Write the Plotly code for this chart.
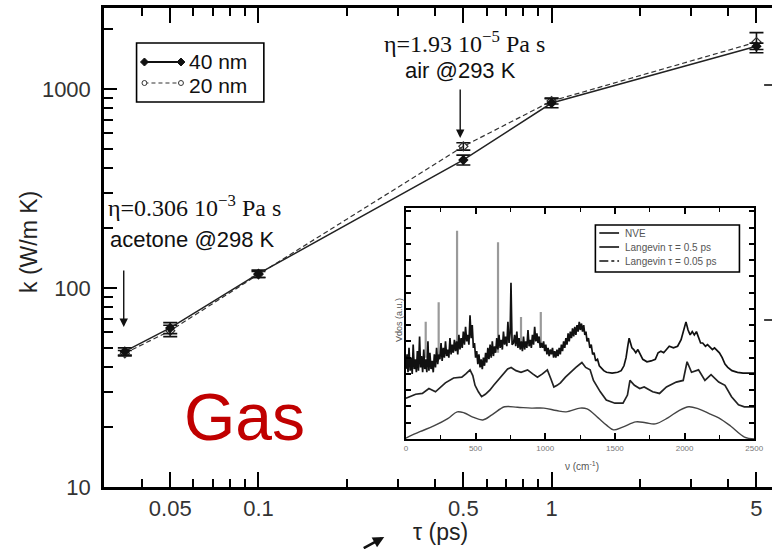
import plotly.graph_objects as go

# ---------------- main panel: thermal conductivity vs relaxation time ----------------
tau = [0.035, 0.05, 0.1, 0.5, 1, 5]
k_40nm = [48, 63, 118, 440, 850, 1640]
err_40nm = [2, 4, 5, 25, 45, 60]
k_20nm = [47, 61, 117, 515, 870, 1720]
err_20nm = [1.5, 4, 4, 22, 30, 200]

x_tickvals = [0.05, 0.1, 0.5, 1, 5]
x_ticktext = ["0.05", "0.1", "0.5", "1", "5"]
x_minor = [0.04, 0.06, 0.07, 0.08, 0.09, 0.2, 0.3, 0.4, 0.6, 0.7, 0.8, 0.9, 2, 3, 4]
y_tickvals = [10, 100, 1000]
y_ticktext = ["10", "100", "1000"]
y_minor = [20, 30, 40, 50, 60, 70, 80, 90, 200, 300, 400, 500, 600, 700, 800, 900, 2000]

# ---------------- inset: vibrational density of states ----------------
nve_nu = [0, 8, 15, 22, 30, 38, 45, 52, 60, 68, 75, 82, 90, 98, 105, 112, 120, 128, 135, 142,
          150, 158, 165, 172, 180, 188, 196, 204, 212, 220, 228, 236, 244, 252, 260, 268, 276,
          284, 292, 300, 308, 316, 324, 332, 340, 348, 356, 364, 372, 380, 388, 396, 404, 412,
          420, 428, 436, 444, 452, 460, 468, 476, 484, 492, 500, 508, 516, 524, 532, 540, 548,
          556, 564, 572, 580, 588, 596, 604, 612, 620, 628, 636, 644, 652, 660, 668, 676, 684,
          692, 700, 708, 716, 724, 732, 740, 748, 754, 762, 772, 780, 788, 796, 804, 812, 820,
          828, 836, 844, 852, 860, 868, 876, 884, 892, 900, 908, 916, 924, 932, 940, 948, 956,
          964, 972, 980, 988, 996, 1004, 1012, 1020, 1028, 1036, 1044, 1052, 1060, 1068, 1076,
          1084, 1092, 1100, 1108, 1116, 1124, 1132, 1140, 1148, 1156, 1164, 1172, 1180, 1188,
          1196, 1204, 1212, 1220, 1228, 1236, 1244, 1252, 1260, 1268, 1276, 1284, 1292, 1300,
          1310, 1320, 1330, 1340, 1350, 1362, 1375, 1388, 1400, 1420, 1440, 1480, 1520, 1545,
          1565, 1580, 1592, 1602, 1612, 1622, 1635, 1650, 1665, 1680, 1700, 1730, 1760, 1790,
          1810, 1830, 1850, 1870, 1890, 1920, 1950, 1975, 1990, 2000, 2010, 2025, 2040, 2055,
          2070, 2085, 2100, 2115, 2130, 2150, 2165, 2185, 2200, 2215, 2235, 2250, 2270, 2290,
          2310, 2340, 2380, 2420, 2500]
nve_v = [4.3, 5.2, 4.1, 5.6, 4.2, 5.0, 4.0, 5.8, 4.3, 4.9, 4.1, 5.4, 4.2, 6.3, 4.4, 5.1, 4.1, 5.5, 4.3, 4.9,
         4.1, 6.0, 4.2, 5.3, 4.3, 4.8, 4.1, 5.2, 4.4, 5.6, 4.6, 5.2, 4.9, 5.9, 4.8, 5.6, 5.0,
         6.0, 5.1, 5.5, 5.0, 6.2, 5.2, 5.8, 5.3, 6.1, 5.4, 6.0, 5.2, 6.4, 5.5, 6.2, 5.6, 6.6,
         5.8, 6.9, 6.0, 6.4, 5.8, 7.6, 6.2, 7.0, 5.6, 5.9, 5.0, 5.4, 4.6, 5.2, 4.4, 4.9, 4.3,
         5.0, 4.5, 5.3, 4.7, 5.6, 4.9, 5.8, 5.0, 6.0, 5.1, 5.7, 5.3, 6.2, 5.5, 6.4, 5.6, 6.1,
         5.5, 6.6, 5.8, 6.3, 5.7, 7.2, 5.9, 6.5, 9.6, 5.8, 5.9, 6.4, 5.7, 6.6, 5.6, 6.2, 5.5,
         6.0, 5.4, 6.3, 5.5, 6.0, 5.6, 6.7, 5.7, 6.1, 5.6, 6.4, 5.8, 6.9, 6.0, 6.5, 5.9, 6.3,
         5.6, 5.9, 5.6, 6.0, 5.4, 5.8, 5.2, 5.6, 5.1, 5.5, 5.2, 5.6, 5.0, 5.4, 5.0,
         5.5, 5.1, 5.6, 5.2, 5.8, 5.4, 6.0, 5.6, 6.2, 5.8, 6.5, 6.0, 6.6, 6.2,
         6.8, 6.3, 6.9, 6.4, 7.0, 6.6, 7.2, 6.7, 7.1, 6.6, 7.0, 6.4, 6.6, 6.0,
         6.2, 5.6, 5.8, 5.2, 5.3, 4.8, 4.9, 4.5, 4.4, 4.2, 4.1, 4.05, 4.1, 4.2,
         4.5, 5.0, 5.7, 6.2, 5.9, 5.6, 5.5, 5.3, 5.5, 5.2, 4.9, 4.75, 4.8, 4.9,
         5.3, 5.4, 5.3, 5.5, 5.7, 5.6, 5.7, 6.1, 6.6, 7.0, 7.2, 6.7, 6.4, 6.6,
         6.4, 6.6, 6.2, 5.9, 5.9, 5.7, 5.8, 5.6, 5.5, 5.6, 5.4, 5.3, 5.0, 4.6,
         4.4, 4.2, 4.1, 4.05, 4.05]

# sharp grey peaks of the NVE spectrum
peak_nu = [142, 235, 367, 661, 826, 968]
peak_base = [5.0, 5.2, 5.6, 5.3, 5.8, 5.8]
peak_top = [7.2, 8.4, 12.8, 12.1, 7.5, 7.8]

lg05_nu = [0, 24, 70, 118, 165, 212, 250, 283, 342, 401, 430, 460, 480, 496, 520, 543, 570,
           602, 630, 661, 708, 730, 755, 790, 826, 850, 873, 910, 944, 980, 1015, 1040, 1062,
           1085, 1109, 1145, 1180, 1220, 1263, 1290, 1322, 1346, 1395, 1438, 1500, 1558, 1590,
           1608, 1640, 1678, 1710, 1771, 1820, 1870, 1940, 1990, 2018, 2050, 2100, 2146, 2190,
           2245, 2290, 2337, 2387, 2429, 2500]
lg05_v = [2.5, 2.6, 2.75, 2.8, 3.1, 2.9, 3.2, 3.45, 3.75, 3.8, 4.0, 4.25, 3.9, 3.3, 2.9, 2.6, 2.75,
          3.0, 3.3, 3.6, 4.1, 4.3, 4.4, 4.2, 4.1, 4.2, 4.25, 4.0, 3.8, 4.0, 4.25, 3.7, 3.2,
          3.3, 3.45, 3.8, 4.1, 4.4, 4.7, 4.4, 4.25, 3.6, 2.9, 2.4, 2.2, 2.2, 2.7,
          3.6, 3.3, 3.1, 3.2, 2.9, 2.8, 3.2, 3.5, 3.6, 4.75, 4.1, 4.25, 3.6, 3.95,
          3.5, 3.3, 2.6, 2.1, 1.98, 1.98]

lg005_nu = [0, 100, 200, 300, 368, 420, 480, 552, 620, 708, 800, 900, 990, 1080, 1150, 1250,
            1300, 1380, 1440, 1490, 1560, 1650, 1720, 1790, 1880, 1960, 2030, 2100, 2180, 2245,
            2330, 2430, 2500]
lg005_v = [0.06, 0.45, 0.8, 1.25, 1.67, 1.6, 1.35, 1.17, 1.5, 1.98, 1.95, 1.9, 1.9, 1.75, 1.67, 1.9,
           1.85, 1.3, 0.85, 0.56, 0.75, 1.05, 1.0, 0.93, 1.3, 1.75, 1.98, 1.85, 1.55, 1.3,
           0.8, 0.12, 0.0]

inset_xticks = [0, 500, 1000, 1500, 2000, 2500]
inset_xminor = [250, 750, 1250, 1750, 2250]
inset_yticks = [1, 2, 3, 4, 5, 6, 7, 8, 9, 10, 11, 12, 13, 14]

# ---------------- page geometry (pixels) ----------------
W, H = 781, 549
ML, MR, MT, MB = 104, 0, 8, 62
PW, PH = W - ML - MR, H - MT - MB


def px(x):
    return (x - ML) / PW


def py(y):
    return (H - MB - y) / PH


SANS = "Liberation Sans, Arial, sans-serif"
SERIF = "Liberation Serif, Times New Roman, serif"

fig = go.Figure()

fig.add_trace(go.Scatter(
    x=tau, y=k_20nm, mode="lines+markers", name="20 nm",
    line=dict(color="#333", width=1.2, dash="5px,3px"),
    marker=dict(symbol="diamond-open", size=7, color="#333", line=dict(width=1.2)),
    error_y=dict(type="data", array=err_20nm, color="#111", thickness=1.6, width=7),
))
fig.add_trace(go.Scatter(
    x=tau, y=k_40nm, mode="lines+markers", name="40 nm",
    line=dict(color="#222", width=1.5),
    marker=dict(symbol="diamond", size=8, color="#111"),
    error_y=dict(type="data", array=err_40nm, color="#111", thickness=1.6, width=7),
))

# inset spectra
peak_x, peak_y = [], []
for n, b, t in zip(peak_nu, peak_base, peak_top):
    peak_x += [n, n, None]
    peak_y += [b, t, None]

fig.add_trace(go.Scatter(x=lg005_nu, y=lg005_v, mode="lines", xaxis="x2", yaxis="y2",
                         line=dict(color="#444", width=1.4), line_shape="spline"))
fig.add_trace(go.Scatter(x=lg05_nu, y=lg05_v, mode="lines", xaxis="x2", yaxis="y2",
                         line=dict(color="#222", width=1.7)))
fig.add_trace(go.Scatter(x=peak_x, y=peak_y, mode="lines", xaxis="x2", yaxis="y2",
                         line=dict(color="#9a9a9a", width=2.2)))
fig.add_trace(go.Scatter(x=nve_nu, y=nve_v, mode="lines", xaxis="x2", yaxis="y2",
                         line=dict(color="#111", width=1.7)))

shapes = []
annotations = []

# main legend
shapes.append(dict(type="rect", xref="paper", yref="paper", x0=px(137), x1=px(266),
                   y0=py(102), y1=py(43), line=dict(color="black", width=1.6)))
shapes.append(dict(type="line", xref="paper", yref="paper", x0=px(145), x1=px(182),
                   y0=py(62), y1=py(62), line=dict(color="#111", width=1.8)))
shapes.append(dict(type="line", xref="paper", yref="paper", x0=px(145), x1=px(182),
                   y0=py(83), y1=py(83), line=dict(color="#333", width=1.2, dash="4px,3px")))
for cx in (145, 182):
    shapes.append(dict(type="path", xref="paper", yref="paper",
                       path="M {a},{b} L {c},{d} L {a},{e} L {f},{d} Z".format(
                           a=px(cx), b=py(58), c=px(cx + 4), d=py(62), e=py(66), f=px(cx - 4)),
                       fillcolor="#111", line=dict(color="#111", width=1)))
    shapes.append(dict(type="circle", xref="paper", yref="paper",
                       x0=px(cx - 2.5), x1=px(cx + 2.5), y0=py(85.5), y1=py(80.5),
                       fillcolor="white", line=dict(color="#333", width=1)))
annotations.append(dict(text="40 nm", x=px(188), y=py(61), xref="paper", yref="paper",
                        xanchor="left", yanchor="middle", showarrow=False,
                        font=dict(family=SANS, size=21, color="#111")))
annotations.append(dict(text="20 nm", x=px(188), y=py(85), xref="paper", yref="paper",
                        xanchor="left", yanchor="middle", showarrow=False,
                        font=dict(family=SANS, size=21, color="#111")))

# viscosity notes and arrows
annotations.append(dict(text="\u03b7=0.306 10<sup>\u22123</sup> Pa s", x=px(106), y=py(206),
                        xref="paper", yref="paper", xanchor="left", yanchor="middle",
                        showarrow=False, font=dict(family=SERIF, size=24, color="#111")))
annotations.append(dict(text="acetone @298 K", x=px(108), y=py(239), xref="paper", yref="paper",
                        xanchor="left", yanchor="middle", showarrow=False,
                        font=dict(family=SANS, size=22, color="#111")))
annotations.append(dict(text="", x=px(124), y=py(327), xref="paper", yref="paper",
                        ax=0, ay=-58, showarrow=True, arrowhead=2, arrowsize=1.2,
                        arrowwidth=1.4, arrowcolor="#111"))
annotations.append(dict(text="\u03b7=1.93 10<sup>\u22125</sup> Pa s", x=px(469), y=py(42),
                        xref="paper", yref="paper", xanchor="center", yanchor="middle",
                        showarrow=False, font=dict(family=SERIF, size=24, color="#111")))
annotations.append(dict(text="air @293 K", x=px(465), y=py(71), xref="paper", yref="paper",
                        xanchor="center", yanchor="middle", showarrow=False,
                        font=dict(family=SANS, size=22, color="#111")))
annotations.append(dict(text="", x=px(465), y=py(138), xref="paper", yref="paper",
                        ax=0, ay=-50, showarrow=True, arrowhead=2, arrowsize=1.2,
                        arrowwidth=1.4, arrowcolor="#111"))

annotations.append(dict(text="Gas", x=px(246), y=py(417), xref="paper", yref="paper",
                        xanchor="center", yanchor="middle", showarrow=False,
                        font=dict(family=SANS, size=66, color="#C00000")))

# axis titles
annotations.append(dict(text="k (W/m K)", x=px(28), y=py(242), xref="paper", yref="paper",
                        xanchor="center", yanchor="middle", textangle=-90, showarrow=False,
                        font=dict(family=SANS, size=23, color="#222")))
annotations.append(dict(text="\u03c4 (ps)", x=px(445), y=py(532), xref="paper", yref="paper",
                        xanchor="center", yanchor="middle", showarrow=False,
                        font=dict(family=SANS, size=23, color="#222")))
annotations.append(dict(text="", x=px(388), y=py(537), xref="paper", yref="paper",
                        ax=-22, ay=14, showarrow=True, arrowhead=2, arrowsize=0.9,
                        arrowwidth=2.5, arrowcolor="#111"))

# inset legend
shapes.append(dict(type="rect", xref="paper", yref="paper", x0=px(602), x1=px(748),
                   y0=py(272), y1=py(225), line=dict(color="black", width=1.6),
                   fillcolor="white"))
leg_rows = [("NVE", 233, None), ("Langevin \u03c4 = 0.5 ps", 247, None),
            ("Langevin \u03c4 = 0.05 ps", 261, "dashdot")]
for label, yy, dash in leg_rows:
    shapes.append(dict(type="line", xref="paper", yref="paper", x0=px(606), x1=px(626),
                       y0=py(yy), y1=py(yy),
                       line=dict(color="#111", width=1.6, dash=dash or "solid")))
    annotations.append(dict(text=label, x=px(630), y=py(yy), xref="paper", yref="paper",
                            xanchor="left", yanchor="middle", showarrow=False,
                            font=dict(family=SANS, size=10, color="#555")))

annotations.append(dict(text="\u03bd (cm<sup>-1</sup>)", x=px(588), y=py(466),
                        xref="paper", yref="paper", xanchor="center", yanchor="middle",
                        showarrow=False, font=dict(family=SANS, size=10, color="#555")))
annotations.append(dict(text="Vdos (a.u.)", x=px(403), y=py(320), xref="paper", yref="paper",
                        xanchor="center", yanchor="middle", textangle=-90, showarrow=False,
                        font=dict(family=SANS, size=9, color="#555")))

# edge marks of the neighbouring panel
for yy in (85, 320):
    shapes.append(dict(type="line", xref="paper", yref="paper", x0=px(773), x1=px(781),
                       y0=py(yy), y1=py(yy), line=dict(color="#111", width=1.6)))

fig.update_layout(
    width=W, height=H,
    margin=dict(l=ML, r=MR, t=MT, b=MB, pad=0),
    paper_bgcolor="white", plot_bgcolor="white",
    showlegend=False,
    shapes=shapes, annotations=annotations,
    xaxis=dict(
        type="log", range=[-1.527, 0.752], showgrid=False, zeroline=False,
        showline=True, linecolor="black", linewidth=2.5, mirror="ticks",
        ticks="inside", ticklen=15, tickwidth=2, tickcolor="black",
        tickmode="array", tickvals=x_tickvals, ticktext=x_ticktext,
        minor=dict(tickmode="array", tickvals=x_minor, ticks="inside", ticklen=8,
                   tickwidth=1.8, tickcolor="black", showgrid=False),
        tickfont=dict(family=SANS, size=22, color="#333"),
    ),
    yaxis=dict(
        type="log", range=[1, 3.407], showgrid=False, zeroline=False,
        showline=True, linecolor="black", linewidth=2.5,
        ticks="inside", ticklen=13, tickwidth=2, tickcolor="black",
        tickmode="array", tickvals=y_tickvals, ticktext=y_ticktext,
        minor=dict(tickmode="array", tickvals=y_minor, ticks="inside", ticklen=9,
                   tickwidth=1.8, tickcolor="black", showgrid=False),
        tickfont=dict(family=SANS, size=22, color="#333"),
        ticklabelstandoff=6,
    ),
    xaxis2=dict(
        domain=[px(410), px(763)], anchor="y2", range=[0, 2500],
        showgrid=False, zeroline=False, showline=True, linecolor="black", linewidth=1.8,
        mirror="ticks", ticks="inside", ticklen=6, tickwidth=1.5, tickcolor="black",
        tickmode="array", tickvals=inset_xticks,
        minor=dict(tickmode="array", tickvals=inset_xminor, ticks="inside", ticklen=4,
                   tickwidth=1.3, tickcolor="black", showgrid=False),
        tickfont=dict(family=SANS, size=8, color="#777"),
    ),
    yaxis2=dict(
        domain=[py(439), py(208)], anchor="x2", range=[0, 14.2],
        showgrid=False, zeroline=False, showline=True, linecolor="black", linewidth=1.8,
        mirror="ticks", ticks="inside", ticklen=5, tickwidth=1.5, tickcolor="black",
        tickmode="array", tickvals=inset_yticks, showticklabels=False,
    ),
)

fig.write_html("out.html")
